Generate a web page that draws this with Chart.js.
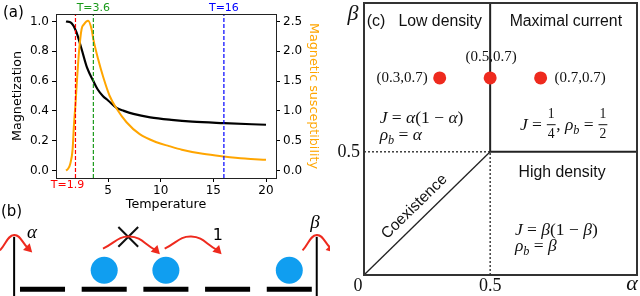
<!DOCTYPE html>
<html>
<head>
<meta charset="utf-8">
<script src="https://cdn.jsdelivr.net/npm/chart.js@4.4.1/dist/chart.umd.min.js"></script>
<style>
  html, body { margin: 0; padding: 0; background: #fff; }
  #wrap { position: relative; width: 640px; height: 296px; overflow: hidden; }
  canvas { position: absolute; }
</style>
</head>
<body>
<div id="wrap">
  <canvas id="chartA" width="330" height="214" style="left:0;top:0"></canvas>
  <canvas id="chartB" width="330" height="100" style="left:0;top:196px"></canvas>
  <canvas id="chartC" width="310" height="296" style="left:330px;top:0"></canvas>
</div>
<script>
// ---- (a) magnetization / susceptibility vs temperature ----
const magTemp = [1.0, 1.5, 2.0, 2.5, 3.0, 3.6, 4.0, 4.5, 5.0, 5.8, 6.5, 7.4, 9, 11, 13, 16, 20];
const magnetization = [1.0, 0.99, 0.926, 0.81, 0.69, 0.60, 0.545, 0.50, 0.47, 0.42, 0.40, 0.38, 0.357, 0.34, 0.328, 0.318, 0.307];
const chiTemp = [1.0, 1.2, 1.4, 1.63, 1.75, 1.91, 2.07, 2.26, 2.48, 2.7, 3.1, 3.43, 3.6, 4.05, 4.55, 5.15, 5.8, 6.75, 8.0, 9.6, 10.8, 12, 14, 16, 18, 20];
const susceptibility = [0, 0.03, 0.11, 0.36, 0.75, 1.14, 1.59, 2.04, 2.37, 2.45, 2.51, 2.37, 2.2, 1.87, 1.56, 1.25, 1.04, 0.81, 0.61, 0.475, 0.41, 0.35, 0.28, 0.235, 0.2, 0.18];
const markerTemps = [1.9, 3.6, 16];
const markerLabels = ['T=1.9', 'T=3.6', 'T=16'];
const markerColors = ['#ff0000', '#1a9a1a', '#0000ff'];
const tempTicks = [5, 10, 15, 20];
const magTicks = [0, 0.2, 0.4, 0.6, 0.8, 1.0];
const chiTicks = [0, 0.5, 1.0, 1.5, 2.0, 2.5];

// ---- (b) TASEP lattice ----
const sites = [0, 1, 2, 3, 4];
const occupiedSites = [1, 2, 4];
const blockedHopFrom = 1;
const openHopFrom = 2;

// ---- (c) phase diagram ----
const critical = 0.5;
const pointAlpha = [0.3, 0.5, 0.7];
const pointBeta = [0.8, 0.8, 0.8]; // where the picture puts the markers
const pointLabels = ['(0.3,0.7)', '(0.5,0.7)', '(0.7,0.7)'];

const SANS = '"DejaVu Sans", sans-serif';
const HELV = '"Liberation Sans", Arial, sans-serif';
const SERIF = '"Liberation Serif", "Times New Roman", serif';
const RED = '#ee2a1e';

Chart.defaults.font.family = SANS;
Chart.defaults.color = '#000';

// ---------- panel (a) ----------
const frameA = {
  id: 'frameA',
  afterDraw(chart) {
    const { ctx, chartArea: a, scales: { x } } = chart;
    ctx.save();
    ctx.strokeStyle = '#222';
    ctx.lineWidth = 1;
    ctx.beginPath();
    ctx.moveTo(a.left, a.top + 0.5);
    ctx.lineTo(a.right, a.top + 0.5);
    ctx.stroke();
    ctx.font = '15px ' + SANS;
    ctx.textBaseline = 'middle';
    ctx.fillStyle = '#000';
    ctx.fillText('(a)', 3, 13);
    ctx.font = '11px ' + SANS;
    ctx.textAlign = 'center';
    markerTemps.forEach((t, i) => {
      ctx.fillStyle = markerColors[i];
      const px = x.getPixelForValue(t);
      if (i === 0) ctx.fillText(markerLabels[i], px - 8, a.bottom + 7);
      else ctx.fillText(markerLabels[i], px, a.top - 6);
    });
    ctx.restore();
  }
};

const tickFont = { size: 12 };
new Chart(document.getElementById('chartA'), {
  type: 'line',
  data: {
    datasets: [
      ...markerTemps.map((t, i) => ({
        data: [{ x: t, y: -0.05 }, { x: t, y: 1.05 }],
        yAxisID: 'y',
        borderColor: markerColors[i],
        borderWidth: 1.2,
        borderDash: [4, 2],
        pointRadius: 0,
        order: 0
      })),
      {
        label: 'Magnetic susceptibility',
        data: chiTemp.map((t, i) => ({ x: t, y: susceptibility[i] })),
        yAxisID: 'y2',
        borderColor: '#ffa500',
        borderWidth: 2,
        pointRadius: 0,
        cubicInterpolationMode: 'monotone',
        order: 1
      },
      {
        label: 'Magnetization',
        data: magTemp.map((t, i) => ({ x: t, y: magnetization[i] })),
        yAxisID: 'y',
        borderColor: '#000',
        borderWidth: 2.2,
        pointRadius: 0,
        cubicInterpolationMode: 'monotone',
        order: 2
      }
    ]
  },
  options: {
    responsive: false,
    animation: false,
    layout: { autoPadding: false, padding: { left: 4, top: 14, right: 0, bottom: 0 } },
    plugins: { legend: { display: false }, tooltip: { enabled: false } },
    scales: {
      x: {
        type: 'linear', min: 0.05, max: 20.95,
        afterFit(s) { s.height = 36; },
        afterBuildTicks(s) { s.ticks = tempTicks.map(v => ({ value: v })); },
        ticks: { font: tickFont, padding: 2, maxRotation: 0 },
        grid: { drawOnChartArea: false, tickLength: 4, tickColor: '#000' },
        border: { color: '#222' },
        title: { display: true, text: 'Temperature', font: { size: 12.7 }, padding: { top: 0, bottom: 2 } }
      },
      y: {
        position: 'left', min: -0.05, max: 1.05,
        afterFit(s) { s.width = 52; },
        afterBuildTicks(s) { s.ticks = magTicks.map(v => ({ value: v })); },
        ticks: { font: tickFont, padding: 3, callback: v => v.toFixed(1) },
        grid: { drawOnChartArea: false, tickLength: 4, tickColor: '#000' },
        border: { color: '#222' },
        title: { display: true, text: 'Magnetization', font: { size: 12.7 }, padding: { top: 6, bottom: 2 } }
      },
      y2: {
        position: 'right', min: -0.125, max: 2.625,
        afterFit(s) { s.width = 54; },
        afterBuildTicks(s) { s.ticks = chiTicks.map(v => ({ value: v })); },
        ticks: { font: tickFont, padding: 3, callback: v => v.toFixed(1) },
        grid: { drawOnChartArea: false, tickLength: 4, tickColor: '#000' },
        border: { color: '#222' },
        title: { display: true, text: 'Magnetic susceptibility', color: '#ffa500', font: { size: 12.7 }, padding: { top: 9, bottom: 2 } }
      }
    }
  },
  plugins: [frameA]
});

// ---------- panel (b) ----------
const HALF_PLATFORM = 0.365;
const wallLeft = sites[0] - 0.46;
const wallRight = sites[sites.length - 1] + 0.445;
const PARTICLE_Y = 0.308;

function hopArc(from) {
  return [{ x: from - 0.02, y: 0.66 }, { x: from + 0.41, y: 0.855 }, { x: from + 0.84, y: 0.63 }];
}
function wallArc(w) {
  return [{ x: w - 0.23, y: 0.63 }, { x: w, y: 0.88 }, { x: w + 0.23, y: 0.66 }];
}
const arcs = [wallArc(wallLeft), hopArc(blockedHopFrom), hopArc(openHopFrom), wallArc(wallRight)];

const lineDs = (data, color, width) => ({
  data, showLine: true, borderColor: color, borderWidth: width, pointRadius: 0, borderCapStyle: 'butt'
});

const bDatasets = [];
sites.forEach(s => bDatasets.push(lineDs([{ x: s - HALF_PLATFORM, y: 0 }, { x: s + HALF_PLATFORM, y: 0 }], '#000', 5)));
[wallLeft, wallRight].forEach(w => bDatasets.push(lineDs([{ x: w, y: -0.3 }, { x: w, y: 0.85 }], '#000', 2)));
arcs.forEach(a => bDatasets.push(Object.assign(lineDs(a, RED, 2), { tension: 0.45 })));
bDatasets.push({
  data: arcs.map(a => a[2]),
  pointStyle: 'triangle',
  rotation: 135,
  pointRadius: 5.5,
  backgroundColor: RED,
  borderWidth: 0
});
bDatasets.push({
  data: [{ x: blockedHopFrom + 0.39, y: 0.85 }],
  pointStyle: 'crossRot',
  pointRadius: 14,
  borderColor: '#111',
  borderWidth: 2
});
bDatasets.push({
  data: occupiedSites.map(s => ({ x: s, y: PARTICLE_Y })),
  pointRadius: 13.5,
  backgroundColor: '#109ef0',
  borderWidth: 0
});

const labelsB = {
  id: 'labelsB',
  afterDraw(chart) {
    const { ctx, scales: { x, y } } = chart;
    ctx.save();
    ctx.textBaseline = 'middle';
    ctx.fillStyle = '#000';
    ctx.font = '15px ' + SANS;
    ctx.fillText('(b)', 1, 16.5);
    ctx.textAlign = 'center';
    ctx.font = 'italic 19px ' + SERIF;
    ctx.fillText('α', x.getPixelForValue(wallLeft + 0.29), y.getPixelForValue(0.92));
    ctx.fillText('β', x.getPixelForValue(wallRight - 0.03), y.getPixelForValue(1.08));
    ctx.font = '16px ' + SANS;
    ctx.fillText('1', x.getPixelForValue(openHopFrom + 0.84), y.getPixelForValue(0.86));
    ctx.restore();
  }
};

new Chart(document.getElementById('chartB'), {
  type: 'scatter',
  data: { datasets: bDatasets },
  options: {
    responsive: false,
    animation: false,
    layout: { autoPadding: false, padding: 0 },
    plugins: { legend: { display: false }, tooltip: { enabled: false } },
    scales: {
      x: { type: 'linear', display: false, min: -0.689, max: 4.66 },
      y: { type: 'linear', display: false, min: -0.109, max: 1.512 }
    }
  },
  plugins: [labelsB]
});

// ---------- panel (c) ----------
function drawMath(ctx, x, y, parts, size) {
  let cx = x;
  ctx.textAlign = 'left';
  for (const [t, k] of parts) {
    if (k === 'frac') {
      const [n, d] = t.split('/');
      ctx.font = `${size * 0.78}px ${SERIF}`;
      const w = Math.max(ctx.measureText(n).width, ctx.measureText(d).width) + 3;
      ctx.textAlign = 'center';
      ctx.fillText(n, cx + w / 2, y - size * 0.62);
      ctx.fillText(d, cx + w / 2, y + size * 0.5);
      ctx.fillRect(cx + 0.5, y - 1, w - 1, 1);
      ctx.textAlign = 'left';
      cx += w;
    } else if (k === 'sub') {
      ctx.font = `italic ${size * 0.7}px ${SERIF}`;
      ctx.fillText(t, cx, y + size * 0.3);
      cx += ctx.measureText(t).width;
    } else {
      ctx.font = `${k === 'i' ? 'italic ' : ''}${size}px ${SERIF}`;
      ctx.fillText(t, cx, y);
      cx += ctx.measureText(t).width;
    }
  }
}

const labelsC = {
  id: 'labelsC',
  afterDraw(chart) {
    const { ctx, chartArea: a, scales: { x, y } } = chart;
    const px = v => x.getPixelForValue(v);
    const py = v => y.getPixelForValue(v);
    ctx.save();
    ctx.strokeStyle = '#333';
    ctx.lineWidth = 2;
    ctx.strokeRect(a.left, a.top, a.right - a.left, a.bottom - a.top);

    ctx.fillStyle = '#111';
    ctx.textBaseline = 'middle';
    ctx.font = '16px ' + HELV;
    ctx.textAlign = 'left';
    ctx.fillText('(c)', px(0.011), py(1.03));
    ctx.font = '15.8px ' + HELV;
    ctx.textAlign = 'center';
    ctx.fillText('Low density', px(0.302), py(1.03));
    ctx.fillText('Maximal current', px(0.80), py(1.03));
    ctx.fillText('High density', px(0.785), py(0.416));

    // coexistence label along the diagonal
    const ang = Math.atan2(py(critical) - py(0), px(critical) - px(0));
    ctx.save();
    ctx.translate(px(0.2), py(0.277));
    ctx.rotate(ang);
    ctx.font = '15.5px ' + HELV;
    ctx.fillText('Coexistence', 0, 0);
    ctx.restore();

    // point labels
    ctx.font = '15px ' + SERIF;
    ctx.textAlign = 'right';
    ctx.fillText(pointLabels[0], px(pointAlpha[0]) - 12, py(pointBeta[0]));
    ctx.textAlign = 'center';
    ctx.fillText(pointLabels[1], px(pointAlpha[1]) + 1, py(pointBeta[1]) - 21);
    ctx.textAlign = 'left';
    ctx.fillText(pointLabels[2], px(pointAlpha[2]) + 14, py(pointBeta[2]));

    // formulas
    const fs = 17.5;
    drawMath(ctx, px(0.062), py(0.635), [['J', 'i'], [' = ', 'r'], ['α', 'i'], ['(1 − ', 'r'], ['α', 'i'], [')', 'r']], fs);
    drawMath(ctx, px(0.062), py(0.568), [['ρ', 'i'], ['b', 'sub'], [' = ', 'r'], ['α', 'i']], fs);
    drawMath(ctx, px(0.618), py(0.608), [['J', 'i'], [' = ', 'r'], ['1/4', 'frac'], [', ', 'r'], ['ρ', 'i'], ['b', 'sub'], [' = ', 'r'], ['1/2', 'frac']], fs);
    drawMath(ctx, px(0.598), py(0.182), [['J', 'i'], [' = ', 'r'], ['β', 'i'], ['(1 − ', 'r'], ['β', 'i'], [')', 'r']], fs);
    drawMath(ctx, px(0.598), py(0.115), [['ρ', 'i'], ['b', 'sub'], [' = ', 'r'], ['β', 'i']], fs);

    // axis labels
    ctx.font = '18px ' + SERIF;
    ctx.textAlign = 'center';
    ctx.fillText('0', px(0) - 6, a.bottom + 11);
    ctx.fillText(String(critical), px(critical), a.bottom + 11);
    ctx.textAlign = 'right';
    ctx.fillText(String(critical), a.left - 4, py(critical));
    ctx.textAlign = 'center';
    ctx.font = 'italic 22px ' + SERIF;
    ctx.fillText('α', a.right - 5, a.bottom + 9);
    ctx.fillText('β', a.left - 11, a.top + 11);
    ctx.restore();
  }
};

const segment = (p, q, dash, width) => ({
  data: [{ x: p[0], y: p[1] }, { x: q[0], y: q[1] }],
  showLine: true,
  borderColor: '#222',
  borderWidth: width,
  borderDash: dash,
  pointRadius: 0
});

new Chart(document.getElementById('chartC'), {
  type: 'scatter',
  data: {
    datasets: [
      {
        data: pointAlpha.map((a, i) => ({ x: a, y: pointBeta[i] })),
        pointRadius: 6.5,
        backgroundColor: RED,
        borderWidth: 0
      },
      segment([0, 0], [critical, critical], [], 1.3),
      segment([critical, critical], [critical, 2], [], 2),
      segment([critical, critical], [2, critical], [], 2),
      segment([0, critical], [critical, critical], [2, 2], 1.3),
      segment([critical, 0], [critical, critical], [2, 2], 1.3)
    ]
  },
  options: {
    responsive: false,
    animation: false,
    layout: { autoPadding: false, padding: { left: 34, right: 3, top: 3, bottom: 21 } },
    plugins: { legend: { display: false }, tooltip: { enabled: false } },
    scales: {
      x: { type: 'linear', display: false, min: 0, max: 1.082 },
      y: { type: 'linear', display: false, min: 0, max: 1.104 }
    }
  },
  plugins: [labelsC]
});
</script>
</body>
</html>
